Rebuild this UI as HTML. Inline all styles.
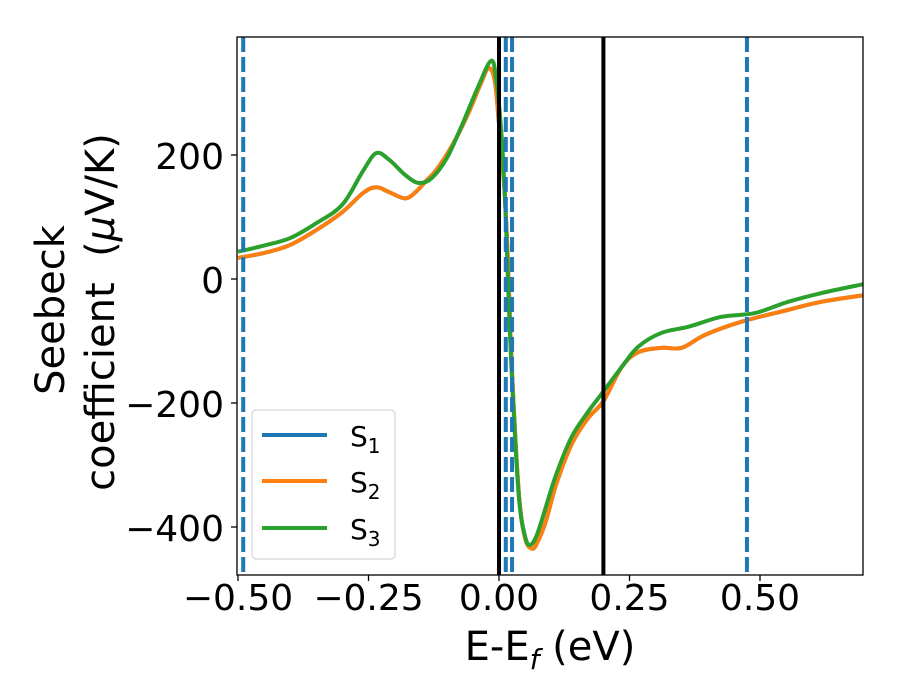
<!DOCTYPE html>
<html><head><meta charset="utf-8"><style>
body{margin:0;background:#fff;}
svg{display:block;font-family:"DejaVu Sans","Liberation Sans",sans-serif;}
</style></head><body>
<svg id="chart" width="900" height="700" viewBox="0 0 900 700">
<defs><clipPath id="clip"><rect x="237" y="37" width="626" height="538"/></clipPath></defs>
<g id="marks" clip-path="url(#clip)"></g>
<rect x="237" y="37" width="626" height="538" fill="none" stroke="#000" stroke-width="1.3"/>
<g id="axes"></g>
<text x="550" y="660" font-size="40" text-anchor="middle">E-E<tspan font-style="italic" font-size="28" dy="9">f</tspan><tspan dy="-9"> (eV)</tspan></text>
<text transform="translate(64,310) rotate(-90)" font-size="40" text-anchor="middle">Seebeck</text>
<text transform="translate(114,312) rotate(-90)" font-size="40" text-anchor="middle" style="white-space:pre">coefficient  (<tspan font-style="italic">μ</tspan>V/K)</text>
<g>
<rect x="252" y="410" width="143" height="149" rx="4" fill="#fff" fill-opacity="0.8" stroke="#ccc" stroke-width="1"/>
<line x1="262" y1="435" x2="327" y2="435" stroke="#1f77b4" stroke-width="4"/>
<text x="350" y="446" font-size="28">S<tspan font-size="20" dy="7">1</tspan></text>
<line x1="262" y1="481" x2="327" y2="481" stroke="#ff7f0e" stroke-width="4"/>
<text x="350" y="492" font-size="28">S<tspan font-size="20" dy="7">2</tspan></text>
<line x1="262" y1="528" x2="327" y2="528" stroke="#2ca02c" stroke-width="4"/>
<text x="350" y="539" font-size="28">S<tspan font-size="20" dy="7">3</tspan></text>
</g>
</svg>
<script>
const s2E=[-0.5,-0.45,-0.4,-0.35,-0.3,-0.26,-0.235,-0.21,-0.18,-0.16,-0.14,-0.12,-0.09,-0.06,-0.035,-0.02,-0.008,0,0.01,0.017,0.025,0.038,0.05,0.064,0.075,0.09,0.11,0.14,0.17,0.2,0.235,0.267,0.311,0.35,0.395,0.464,0.553,0.616,0.7];
const s2V=[34,42,55,79,108,139,148,140,130,140,158,176,215,265,315,340,320,250,150,30,-150,-345,-418,-435,-422,-390,-330,-265,-225,-197,-142,-118,-111,-111,-90,-69,-50,-37,-26];
const s1E=s2E.slice();
const s1V=s2V.slice();
const s3E=[-0.5,-0.45,-0.4,-0.35,-0.3,-0.26,-0.235,-0.21,-0.18,-0.155,-0.13,-0.1,-0.07,-0.04,-0.015,-0.005,0.005,0.012,0.017,0.025,0.038,0.05,0.059,0.07,0.082,0.108,0.139,0.17,0.195,0.235,0.267,0.311,0.363,0.426,0.49,0.553,0.616,0.7];
const s3V=[44,54,66,90,120,175,203,192,168,155,162,195,250,310,352,320,230,120,0,-163,-351,-415,-429,-418,-389,-319,-255,-215,-187,-142,-109,-87,-77,-61,-55,-37,-23,-8];
const vDashed=[-0.49,0.013,0.025,0.475];
const vSolid=[0.0,0.2];
const xTicks=[-0.5,-0.25,0,0.25,0.5];
const xTickLabels=["\u22120.50","\u22120.25","0.00","0.25","0.50"];
const yTicks=[200,0,-200,-400];
const yTickLabels=["200","0","\u2212200","\u2212400"];

const X=e=>238+(e+0.5)*522;
const Y=v=>279-v*0.62;
const NS="http://www.w3.org/2000/svg";
const marks=document.getElementById('marks');
const axes=document.getElementById('axes');
function mk(tag,attrs,parent){const el=document.createElementNS(NS,tag);for(const k in attrs)el.setAttribute(k,attrs[k]);parent.appendChild(el);return el;}
function pathD(es,vs){const p=es.map((e,i)=>[X(e),Y(vs[i])]);let d=`M${p[0][0]},${p[0][1]}`;
for(let i=0;i<p.length-1;i++){const p0=p[i-1]||p[i],p1=p[i],p2=p[i+1],p3=p[i+2]||p2;const t=1/6;
d+=`C${p1[0]+(p2[0]-p0[0])*t},${p1[1]+(p2[1]-p0[1])*t} ${p2[0]-(p3[0]-p1[0])*t},${p2[1]-(p3[1]-p1[1])*t} ${p2[0]},${p2[1]}`;}return d;}
const series=[[s1E,s1V,'#1f77b4','series-s1'],[s2E,s2V,'#ff7f0e','series-s2'],[s3E,s3V,'#2ca02c','series-s3']];
series.forEach(s=>{const el=mk('path',{d:pathD(s[0],s[1]),fill:'none',stroke:s[2],'stroke-width':4,'stroke-linejoin':'round'},marks);

});
vSolid.forEach(e=>{const el=mk('line',{x1:X(e),x2:X(e),y1:37,y2:575,stroke:'#000','stroke-width':4},marks);

});
vDashed.forEach(e=>{const el=mk('line',{x1:X(e),x2:X(e),y1:37,y2:575,stroke:'#1f77b4','stroke-width':4,'stroke-dasharray':'15,5'},marks);

});
xTicks.forEach((t,i)=>{mk('line',{x1:X(t),x2:X(t),y1:575,y2:581,stroke:'#000','stroke-width':1.3},axes);
const tx=mk('text',{x:X(t),y:610,'font-size':36,'text-anchor':'middle'},axes);tx.textContent=xTickLabels[i];

});
yTicks.forEach((t,i)=>{mk('line',{x1:231,x2:237,y1:Y(t),y2:Y(t),stroke:'#000','stroke-width':1.3},axes);
const tx=mk('text',{x:224,y:Y(t)+14,'font-size':36,'text-anchor':'end'},axes);tx.textContent=yTickLabels[i];

});
</script>
</body></html>
